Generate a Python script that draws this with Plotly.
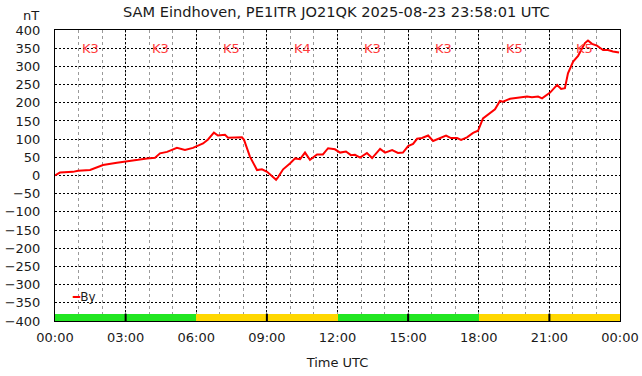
import plotly.graph_objects as go

# --- data ---
hours = [0, 0.21, 0.76, 0.98, 1.49, 1.70, 2.04, 2.63, 3.06, 3.53, 3.91, 4.25, 4.46, 4.76, 5.18, 5.52,
         5.86, 6.29, 6.50, 6.75, 6.92, 7.22, 7.35, 7.94, 8.03, 8.28, 8.58, 8.79, 9.01, 9.22, 9.39,
         9.47, 9.69, 9.98, 10.20, 10.41, 10.62, 10.83, 11.13, 11.38, 11.60, 11.89, 12.11, 12.36,
         12.57, 12.74, 12.96, 13.25, 13.47, 13.81, 14.02, 14.32, 14.57, 14.78, 15.00, 15.21, 15.38,
         15.59, 15.85, 16.06, 16.27, 16.61, 16.82, 17.08, 17.25, 17.50, 17.76, 17.97, 18.18, 18.48,
         18.69, 18.90, 19.03, 19.33, 19.63, 20.05, 20.26, 20.52, 20.69, 20.90, 21.03, 21.33, 21.50,
         21.66, 21.79, 22.01, 22.22, 22.51, 22.64, 22.81, 23.02, 23.28, 23.49, 23.70, 23.96]
by_values = [0, 8, 10, 13, 15, 21, 29, 35, 38, 43, 47, 49, 61, 65, 76, 70,
             76, 88, 99, 118, 110, 112, 104, 105, 98, 52, 15, 17, 10, -1, -12,
             -5, 17, 33, 47, 45, 63, 43, 58, 58, 75, 72, 63, 66,
             56, 57, 49, 62, 48, 73, 63, 70, 62, 63, 81, 87, 101,
             103, 110, 95, 100, 110, 103, 103, 98, 105, 117, 123, 157, 173,
             182, 205, 203, 211, 214, 217, 215, 217, 212, 223, 228, 249, 238,
             240, 281, 313, 329, 364, 371, 362, 357, 345, 345, 341, 338]

k_centers = [1.5, 4.5, 7.5, 10.5, 13.5, 16.5, 19.5, 22.5]
k_index = [3, 3, 5, 4, 3, 3, 5, 5]
k_labels = ["K3", "K3", "K5", "K4", "K3", "K3", "K5", "K5"]

tick_vals = [0, 3, 6, 9, 12, 15, 18, 21, 24]
tick_text = ["00:00", "03:00", "06:00", "09:00", "12:00", "15:00", "18:00", "21:00", "00:00"]

FONT = "DejaVu Sans"
TXT = "#1a1a1a"
k_colors = ["#22e622" if k < 4 else "#ffd700" for k in k_index]
BAR_BASE, BAR_H, BLOCK = -400, 20, 3

fig = go.Figure()

fig.add_trace(go.Bar(
    x=k_centers, y=[BAR_H] * len(k_centers), base=BAR_BASE, width=BLOCK,
    marker=dict(color=k_colors, line=dict(width=0)),
    showlegend=False, hoverinfo="skip"))

# black separators between neighbouring blocks of the same colour
for i in range(1, len(k_centers)):
    if k_colors[i] == k_colors[i - 1]:
        xb = k_centers[i] - BLOCK / 2
        fig.add_shape(type="line", x0=xb, x1=xb, y0=BAR_BASE, y1=BAR_BASE + BAR_H,
                      line=dict(color="black", width=2), layer="above")

fig.add_trace(go.Scatter(
    x=hours, y=by_values, mode="lines",
    line=dict(color="#ff0000", width=2), name="By", showlegend=False))

for xc, lbl in zip(k_centers, k_labels):
    fig.add_annotation(x=xc, y=350, text=lbl, showarrow=False,
                       font=dict(family=FONT, size=13, color="#ff3c3c"))

# legend-style label
fig.add_annotation(xref="paper", yref="y", x=0.027, y=-333, xanchor="left",
                   text="<span style='color:#ff0000'>━</span>By", showarrow=False,
                   font=dict(family=FONT, size=12, color=TXT))

fig.add_annotation(xref="paper", yref="paper", x=-0.0425, y=1.0, yshift=15,
                   text="nT", showarrow=False, xanchor="center", yanchor="middle",
                   font=dict(family=FONT, size=13, color=TXT))

fig.update_layout(
    width=642, height=376,
    margin=dict(l=55, r=22, t=30, b=55, autoexpand=False),
    paper_bgcolor="white", plot_bgcolor="white",
    font=dict(family=FONT, size=13, color=TXT),
    title=dict(text="SAM Eindhoven, PE1ITR JO21QK 2025-08-23 23:58:01 UTC",
               x=0.524, xanchor="center", y=0.968, yanchor="middle",
               font=dict(family=FONT, size=14.6, color=TXT)),
    bargap=0,
    showlegend=False,
    xaxis=dict(range=[0, 24], tickvals=tick_vals, ticktext=tick_text,
               automargin=False,
               showgrid=True, gridcolor="black", griddash="2px,2px", gridwidth=1,
               minor=dict(dtick=1, tick0=0, showgrid=True, gridcolor="#9a9a9a",
                          griddash="3px,3px", gridwidth=1),
               showline=True, linecolor="black", linewidth=1, mirror=True,
               zeroline=False, ticks="", ticklabelstandoff=4,
               title=dict(text="Time UTC", standoff=14,
                          font=dict(family=FONT, size=13, color=TXT))),
    yaxis=dict(range=[-400, 400], dtick=50, tick0=0, automargin=False,
               showgrid=True, gridcolor="black", griddash="2px,2px", gridwidth=1,
               showline=True, linecolor="black", linewidth=1, mirror=True,
               zeroline=False, ticks="", ticklabelstandoff=11),
)

fig.write_html("out.html", config={"displayModeBar": False},
               post_script="document.body.style.margin='0';")
